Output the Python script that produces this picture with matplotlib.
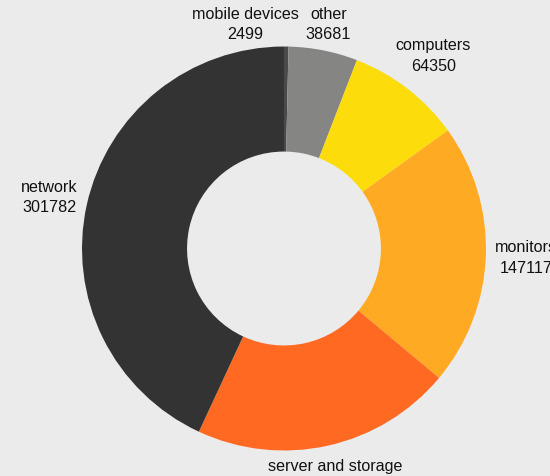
import numpy as np
import matplotlib.pyplot as plt

plt.rcParams['font.family'] = ['Liberation Sans', 'DejaVu Sans']

# device categories, clockwise from 12 o'clock
labels = ['mobile devices', 'other', 'computers', 'monitors', 'server and storage', 'network']
values = [2499, 38681, 64350, 147117, 146100, 301782]
colors = ['#4a4a4a', '#858583', '#fcdc0a', '#ffaa22', '#ff6922', '#333333']

bg = '#ebebeb'
fig = plt.figure(figsize=(5.5, 4.77), dpi=100, facecolor=bg)
ax = fig.add_axes([0, 0, 1, 1])
ax.set_facecolor(bg)

wedges, _ = ax.pie(values, colors=colors, startangle=90, counterclock=False,
                   radius=1.0, wedgeprops=dict(width=0.52, edgecolor='none'))

# labels sit outside the ring at each wedge's mid angle
total = sum(values)
start = 0.0
label_r = [1.2, 1.2, 1.21, 1.2, 1.155, 1.19]
# the two thin wedges at the top get side-by-side labels
fixed = {0: (-0.19, 1.114), 1: (0.22, 1.114)}
for i, (lab, v) in enumerate(zip(labels, values)):
    mid = np.deg2rad(start + v / total * 360 / 2)
    x = label_r[i] * np.sin(mid)
    y = label_r[i] * np.cos(mid)
    if i in fixed:
        x, y = fixed[i]
    ax.text(x, y, f'{lab}\n{v}', ha='center', va='center', fontsize=11.6,
            color='#111111', linespacing=1.45)
    start += v / total * 360

ax.set_aspect('equal')
ax.set_xlim(-1.406, 1.317)
ax.set_ylim(-1.126, 1.235)
ax.axis('off')

fig.savefig('out.png', dpi=100, facecolor=bg)
